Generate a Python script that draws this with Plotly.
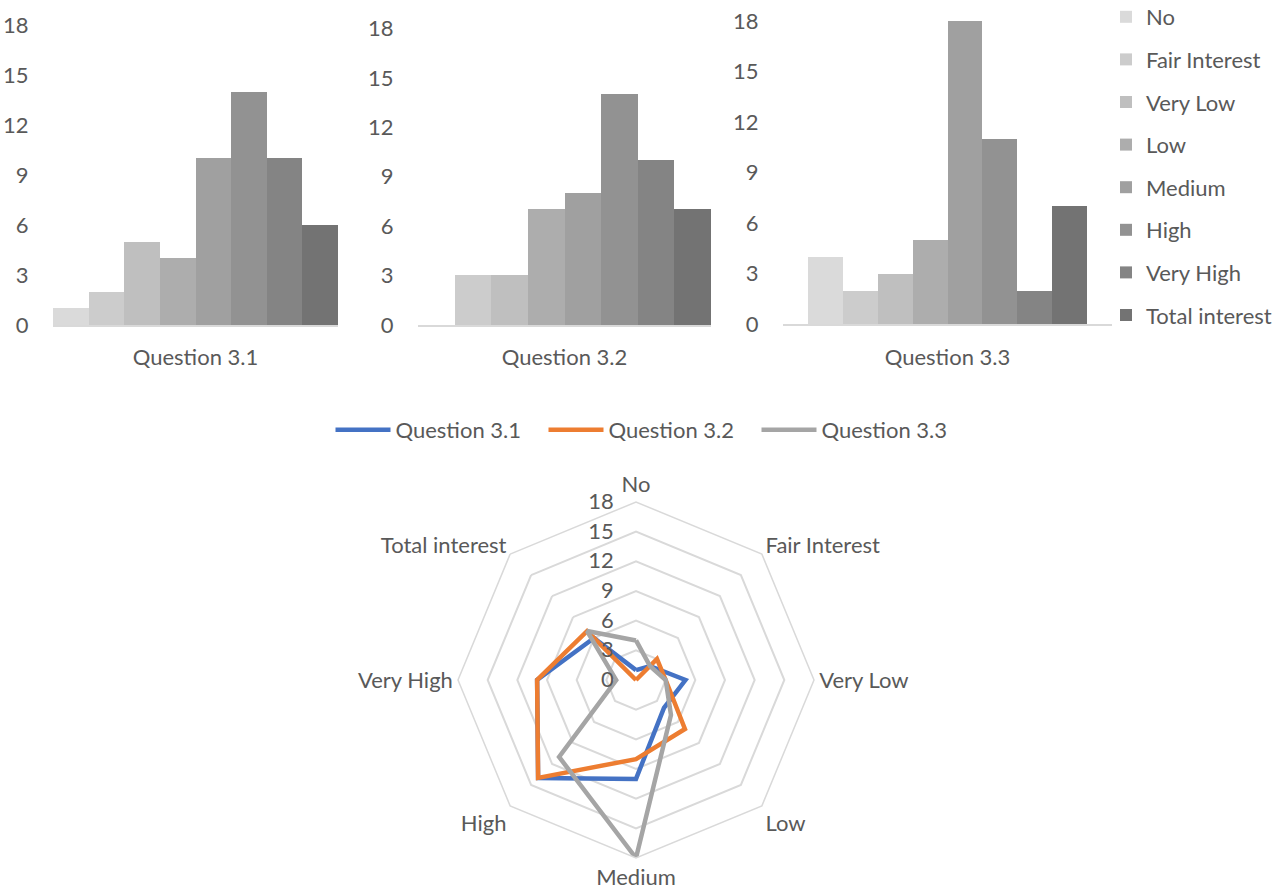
import plotly.graph_objects as go

# Response levels (series) and the three questions
levels = ["No", "Fair Interest", "Very Low", "Low", "Medium", "High", "Very High", "Total interest"]
questions = ["Question 3.1", "Question 3.2", "Question 3.3"]

q31 = [1, 2, 5, 4, 10, 14, 10, 6]
q32 = [0, 3, 3, 7, 8, 14, 10, 7]
q33 = [4, 2, 3, 5, 18, 11, 2, 7]
answers = [q31, q32, q33]

y_ticks = [0, 3, 6, 9, 12, 15, 18]

level_colors = ["#dadada", "#cccccc", "#bfbfbf", "#adadad",
                "#a0a0a0", "#929292", "#848484", "#737373"]
line_colors = ["#4472c4", "#ed7d31", "#a5a5a5"]

TXT = "#595959"
GRID = "#d9d9d9"
FONT = "Lato"
FS = 22

fig = go.Figure()

# one column chart per question, each level its own bar
for qi, (q, vals) in enumerate(zip(questions, answers)):
    ax = "" if qi == 0 else str(qi + 1)
    for li, (lvl, v) in enumerate(zip(levels, vals)):
        fig.add_trace(go.Bar(
            x=[q], y=[v], name=lvl,
            marker=dict(color=level_colors[li], line=dict(width=0)),
            xaxis="x" + ax, yaxis="y" + ax,
            legendgroup=lvl, showlegend=(qi == 0), legend="legend",
            hoverinfo="skip",
        ))

# radar of the same answers
for qi, (q, vals) in enumerate(zip(questions, answers)):
    fig.add_trace(go.Scatterpolar(
        r=vals + vals[:1], theta=levels + levels[:1],
        mode="lines", name=q,
        line=dict(color=line_colors[qi], width=4.5),
        legend="legend2", hoverinfo="skip",
    ))

W, H = 1288, 890

def xd(a, b):
    return [a / W, b / W]

def yd(top, base):
    return [(H - base) / H, (H - top) / H]

bar_x = [xd(53, 338), xd(418, 711), xd(783, 1112)]
bar_y = [yd(25, 325), yd(28.4, 325), yd(21, 324.3)]
bar_rng = [[-0.5, 0.5], [-0.5, 0.5], [-0.5917, 0.5917]]

layout = dict(
    width=W, height=H,
    margin=dict(l=0, r=0, t=0, b=0, autoexpand=False),
    paper_bgcolor="white", plot_bgcolor="white",
    font=dict(family=FONT, size=FS, color=TXT),
    barmode="group", bargap=0, bargroupgap=0,
)

for i in range(3):
    ax = "" if i == 0 else str(i + 1)
    layout["xaxis" + ax] = dict(
        domain=bar_x[i], anchor="y" + ax, type="category",
        range=bar_rng[i], showline=True, linecolor=GRID, linewidth=2,
        showgrid=False, zeroline=False,
        ticks="outside", ticklen=12, tickcolor="rgba(0,0,0,0)",
        tickfont=dict(family=FONT, size=FS, color=TXT), fixedrange=True,
    )
    layout["yaxis" + ax] = dict(
        domain=bar_y[i], anchor="x" + ax, range=[0, 18],
        tickvals=y_ticks, showgrid=False, zeroline=False, showline=False,
        ticks="outside", ticklen=19, tickcolor="rgba(0,0,0,0)",
        tickfont=dict(family=FONT, size=FS, color=TXT), fixedrange=True,
    )

layout["polar"] = dict(
    domain=dict(x=xd(458, 814), y=[32 / H, 388 / H]),
    bgcolor="white",
    radialaxis=dict(
        range=[0, 18], tickvals=y_ticks, angle=90, tickangle=90,
        side="counterclockwise", showline=False,
        gridcolor=GRID, gridwidth=1.5,
        ticks="outside", ticklen=14, tickcolor="rgba(0,0,0,0)",
        tickfont=dict(family=FONT, size=FS, color=TXT),
    ),
    angularaxis=dict(
        direction="clockwise", rotation=90, showgrid=False,
        showline=True, linecolor=GRID, linewidth=1.5, ticks="",
        tickfont=dict(family=FONT, size=FS, color=TXT),
    ),
    gridshape="linear",
)

layout["legend"] = dict(
    x=1106 / W, xanchor="left", y=1 + 4 / H, yanchor="top",
    orientation="v", tracegroupgap=11, itemwidth=30,
    font=dict(family=FONT, size=FS, color=TXT), bgcolor="rgba(0,0,0,0)",
)
layout["legend2"] = dict(
    x=650 / W, xanchor="center", y=(H - 430) / H, yanchor="middle",
    orientation="h", itemwidth=55, entrywidth=143,
    font=dict(family=FONT, size=FS, color=TXT), bgcolor="rgba(0,0,0,0)",
)

fig.update_layout(**layout)
fig.write_html("out.html")
